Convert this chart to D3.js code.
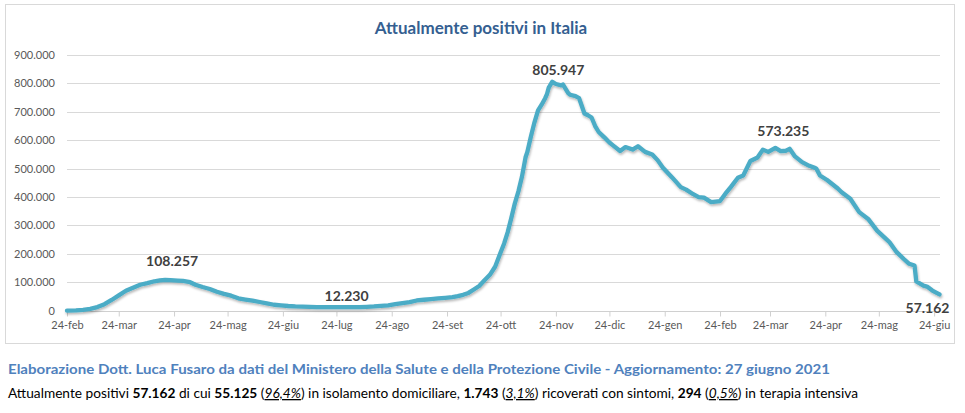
<!DOCTYPE html>
<html>
<head>
<meta charset="utf-8">
<script src="https://cdn.jsdelivr.net/npm/d3@7"></script>
<style>
  html, body { margin: 0; padding: 0; background: #fff; }
  svg { display: block; }
</style>
</head>
<body>
<svg id="chart" width="965" height="413"></svg>
<script>
// ---------------- DATA ----------------
const title = "Attualmente positivi in Italia";

const dates = [
  "2020-02-24","2020-02-29","2020-03-04","2020-03-08","2020-03-12","2020-03-16","2020-03-20","2020-03-24",
  "2020-03-28","2020-04-01","2020-04-05","2020-04-09","2020-04-13","2020-04-16","2020-04-19","2020-04-22",
  "2020-04-26","2020-04-29","2020-05-03","2020-05-06","2020-05-10","2020-05-14","2020-05-18","2020-05-22",
  "2020-05-26","2020-05-30","2020-06-03","2020-06-07","2020-06-11","2020-06-15","2020-06-19","2020-06-23",
  "2020-06-27","2020-07-01","2020-07-05","2020-07-09","2020-07-13","2020-07-17","2020-07-22","2020-07-28",
  "2020-08-02","2020-08-06","2020-08-10","2020-08-14","2020-08-18","2020-08-22","2020-08-26","2020-08-30",
  "2020-09-03","2020-09-07","2020-09-11","2020-09-15","2020-09-19","2020-09-23","2020-09-27","2020-09-30",
  "2020-10-03","2020-10-06","2020-10-09","2020-10-12","2020-10-15","2020-10-18","2020-10-21","2020-10-24",
  "2020-10-26","2020-10-28","2020-10-30","2020-11-01","2020-11-03","2020-11-05","2020-11-07","2020-11-08",
  "2020-11-10","2020-11-12","2020-11-14","2020-11-16","2020-11-18","2020-11-19","2020-11-20","2020-11-22",
  "2020-11-24","2020-11-27","2020-11-28","2020-12-01","2020-12-02","2020-12-05","2020-12-07","2020-12-08",
  "2020-12-10","2020-12-12","2020-12-14","2020-12-16","2020-12-18","2020-12-21","2020-12-24","2020-12-26",
  "2020-12-30","2021-01-02","2021-01-04","2021-01-06","2021-01-09","2021-01-13","2021-01-17","2021-01-20",
  "2021-01-23","2021-01-28","2021-02-02","2021-02-05","2021-02-09","2021-02-12","2021-02-15","2021-02-19",
  "2021-02-24","2021-02-27","2021-03-02","2021-03-06","2021-03-09","2021-03-13","2021-03-17","2021-03-20",
  "2021-03-23","2021-03-27","2021-03-30","2021-04-02","2021-04-04","2021-04-07","2021-04-11","2021-04-15",
  "2021-04-18","2021-04-19","2021-04-21","2021-04-25","2021-05-01","2021-05-03","2021-05-08","2021-05-13",
  "2021-05-18","2021-05-23","2021-05-28","2021-05-30","2021-06-03","2021-06-07","2021-06-10","2021-06-13",
  "2021-06-14","2021-06-18","2021-06-20","2021-06-23","2021-06-27"
];

const values = [
  221, 1049, 2706, 6387, 12839, 23073, 37860, 54030,
  70065, 80572, 91246, 96877, 103616, 106607, 108257, 107699,
  106103, 104657, 100179, 91528, 83324, 76440, 66553, 59322,
  52942, 43691, 39297, 35262, 30637, 25909, 20972, 18655,
  16496, 15060, 14242, 13179, 12456, 12400, 12500, 12230,
  12650, 12900, 13800, 15100, 17000, 19000, 23000, 26754,
  30000, 36000, 38500, 41000, 43500, 45500, 47718, 51263,
  56000, 62576, 74829, 87193, 107312, 126237, 155442, 205000,
  236684, 276457, 325786, 378000, 420000, 472000, 540000, 558636,
  613000, 663000, 705000, 725000, 748000, 762000, 785000, 805947,
  798000, 793000, 796000, 765000, 760000, 755000, 748000, 730000,
  694000, 688000, 680000, 650000, 629000, 611000, 592000, 582000,
  562000, 576000, 572000, 567000, 579000, 559000, 550000, 530000,
  503000, 470000, 435000, 426000, 410000, 400000, 398000, 382000,
  386000, 412000, 435000, 468000, 476000, 527000, 539000, 567000,
  559000, 573235, 562000, 563000, 570000, 543000, 523000, 510000,
  503000, 500000, 476000, 460000, 430000, 418000, 394000, 347000,
  323000, 282000, 253000, 241000, 206000, 182000, 165000, 159000,
  103000, 88000, 85000, 71000, 57162
];

const yTickValues = [0, 100000, 200000, 300000, 400000, 500000, 600000, 700000, 800000, 900000];

const xTickLabels = ["24-feb","24-mar","24-apr","24-mag","24-giu","24-lug","24-ago","24-set",
                     "24-ott","24-nov","24-dic","24-gen","24-feb","24-mar","24-apr","24-mag","24-giu"];

// highlighted values (data labels)
const labelDates  = ["2020-04-19","2020-07-28","2020-11-22","2021-03-27","2021-06-27"];
const labelValues = [108257, 12230, 805947, 573235, 57162];

const sourceText = "Elaborazione Dott. Luca Fusaro da dati del Ministero della Salute e della Protezione Civile - Aggiornamento: 27 giugno 2021";
// summary line pieces: [text, style]
const summaryParts = [
  ["Attualmente positivi ", "n"], ["57.162", "b"], [" di cui ", "n"], ["55.125", "b"], [" (", "n"],
  ["96,4%", "iu"], [") in isolamento domiciliare, ", "n"], ["1.743", "b"], [" (", "n"], ["3,1%", "iu"],
  [") ricoverati con sintomi, ", "n"], ["294", "b"], [" (", "n"], ["0,5%", "iu"], [") in terapia intensiva", "n"]
];

// ---------------- DRAW ----------------
const parse = d3.timeParse("%Y-%m-%d");
const series = dates.map((d, i) => ({ date: parse(d), value: values[i] }));
const fmt = d3.formatLocale({ decimal: ",", thousands: ".", grouping: [3], currency: ["€", ""] }).format(",d");

const svg = d3.select("#chart");
const FONT = "Lato, 'Open Sans', sans-serif";

// shadow filter
const defs = svg.append("defs");
const f = defs.append("filter").attr("id", "shadow").attr("x", "-5%").attr("y", "-5%").attr("width", "110%").attr("height", "120%");
f.append("feDropShadow").attr("dx", 0.8).attr("dy", 1.8).attr("stdDeviation", 1.2)
  .attr("flood-color", "#000").attr("flood-opacity", 0.28);

// chart frame
svg.append("rect").attr("x", 5.5).attr("y", 4.5).attr("width", 949).attr("height", 339)
  .attr("fill", "#fff").attr("stroke", "#d9d9d9").attr("stroke-width", 1);

// title
svg.append("text").attr("x", 481).attr("y", 34).attr("text-anchor", "middle")
  .attr("font-family", FONT).attr("font-weight", 700).attr("font-size", 17)
  .attr("fill", "#355f91").text(title);

const x = d3.scaleTime()
  .domain([parse("2020-02-24"), parse("2021-06-27")])
  .range([67, 939.5]);
const y = d3.scaleLinear().domain([0, 900000]).range([310.7, 55]);

// gridlines
svg.append("g").selectAll("line").data(yTickValues.filter(v => v > 0)).join("line")
  .attr("x1", 67).attr("x2", 940)
  .attr("y1", d => Math.round(y(d)) + 0.5).attr("y2", d => Math.round(y(d)) + 0.5)
  .attr("stroke", "#d9d9d9").attr("stroke-width", 1);

// y axis labels
const yAxis = d3.axisLeft(y).tickValues(yTickValues).tickFormat(fmt).tickSize(0).tickPadding(0);
const gy = svg.append("g").attr("transform", "translate(55,0)").call(yAxis);
gy.select(".domain").remove();
gy.selectAll("text").attr("font-family", FONT).attr("font-size", 11).attr("fill", "#595959");

// x axis
const start = parse("2020-02-24");
const xTickDates = xTickLabels.map((_, i) => d3.timeMonth.offset(start, i));
const xAxis = d3.axisBottom(x).tickValues(xTickDates).tickFormat((d, i) => xTickLabels[i])
  .tickSize(5).tickPadding(5).tickSizeOuter(0);
const gx = svg.append("g").attr("transform", `translate(0,${Math.round(y(0)) + 0.5})`).call(xAxis);
gx.select(".domain").attr("stroke", "#d0d0d0").attr("d", `M67,0H940`);
gx.selectAll(".tick line").attr("stroke", "#d0d0d0");
gx.selectAll("text").attr("font-family", FONT).attr("font-size", 11).attr("fill", "#595959");

// line
const line = d3.line().x(d => x(d.date)).y(d => y(d.value)).curve(d3.curveLinear);
svg.append("path").datum(series)
  .attr("d", line)
  .attr("fill", "none").attr("stroke", "#4bacc6").attr("stroke-width", 4.3)
  .attr("stroke-linejoin", "round").attr("stroke-linecap", "round")
  .attr("filter", "url(#shadow)");

// data labels (offset from their points)
const labelOffsets = [[7, -14], [3, -6], [6, -7], [8, -12], [-12, 19]];
svg.append("g").selectAll("text").data(labelDates).join("text")
  .attr("x", (d, i) => x(parse(d)) + labelOffsets[i][0])
  .attr("y", (d, i) => y(labelValues[i]) + labelOffsets[i][1])
  .attr("text-anchor", "middle")
  .attr("font-family", FONT).attr("font-weight", 700).attr("font-size", 14)
  .attr("fill", "#404040")
  .text((d, i) => fmt(labelValues[i]));

// source line
svg.append("text").attr("x", 8).attr("y", 374)
  .attr("font-family", FONT).attr("font-weight", 700).attr("font-size", 13)
  .attr("fill", "#4f81bd")
  .attr("textLength", 822).attr("lengthAdjust", "spacingAndGlyphs")
  .text(sourceText);

// summary line
const st = svg.append("text").attr("x", 8).attr("y", 398)
  .attr("font-family", FONT).attr("font-size", 13).attr("fill", "#000")
  .attr("textLength", 850).attr("lengthAdjust", "spacingAndGlyphs");
summaryParts.forEach(([t, s]) => {
  const ts = st.append("tspan").text(t);
  if (s === "b") ts.attr("font-weight", 700);
  if (s === "iu") ts.attr("font-style", "italic").attr("text-decoration", "underline");
});
</script>
</body>
</html>
